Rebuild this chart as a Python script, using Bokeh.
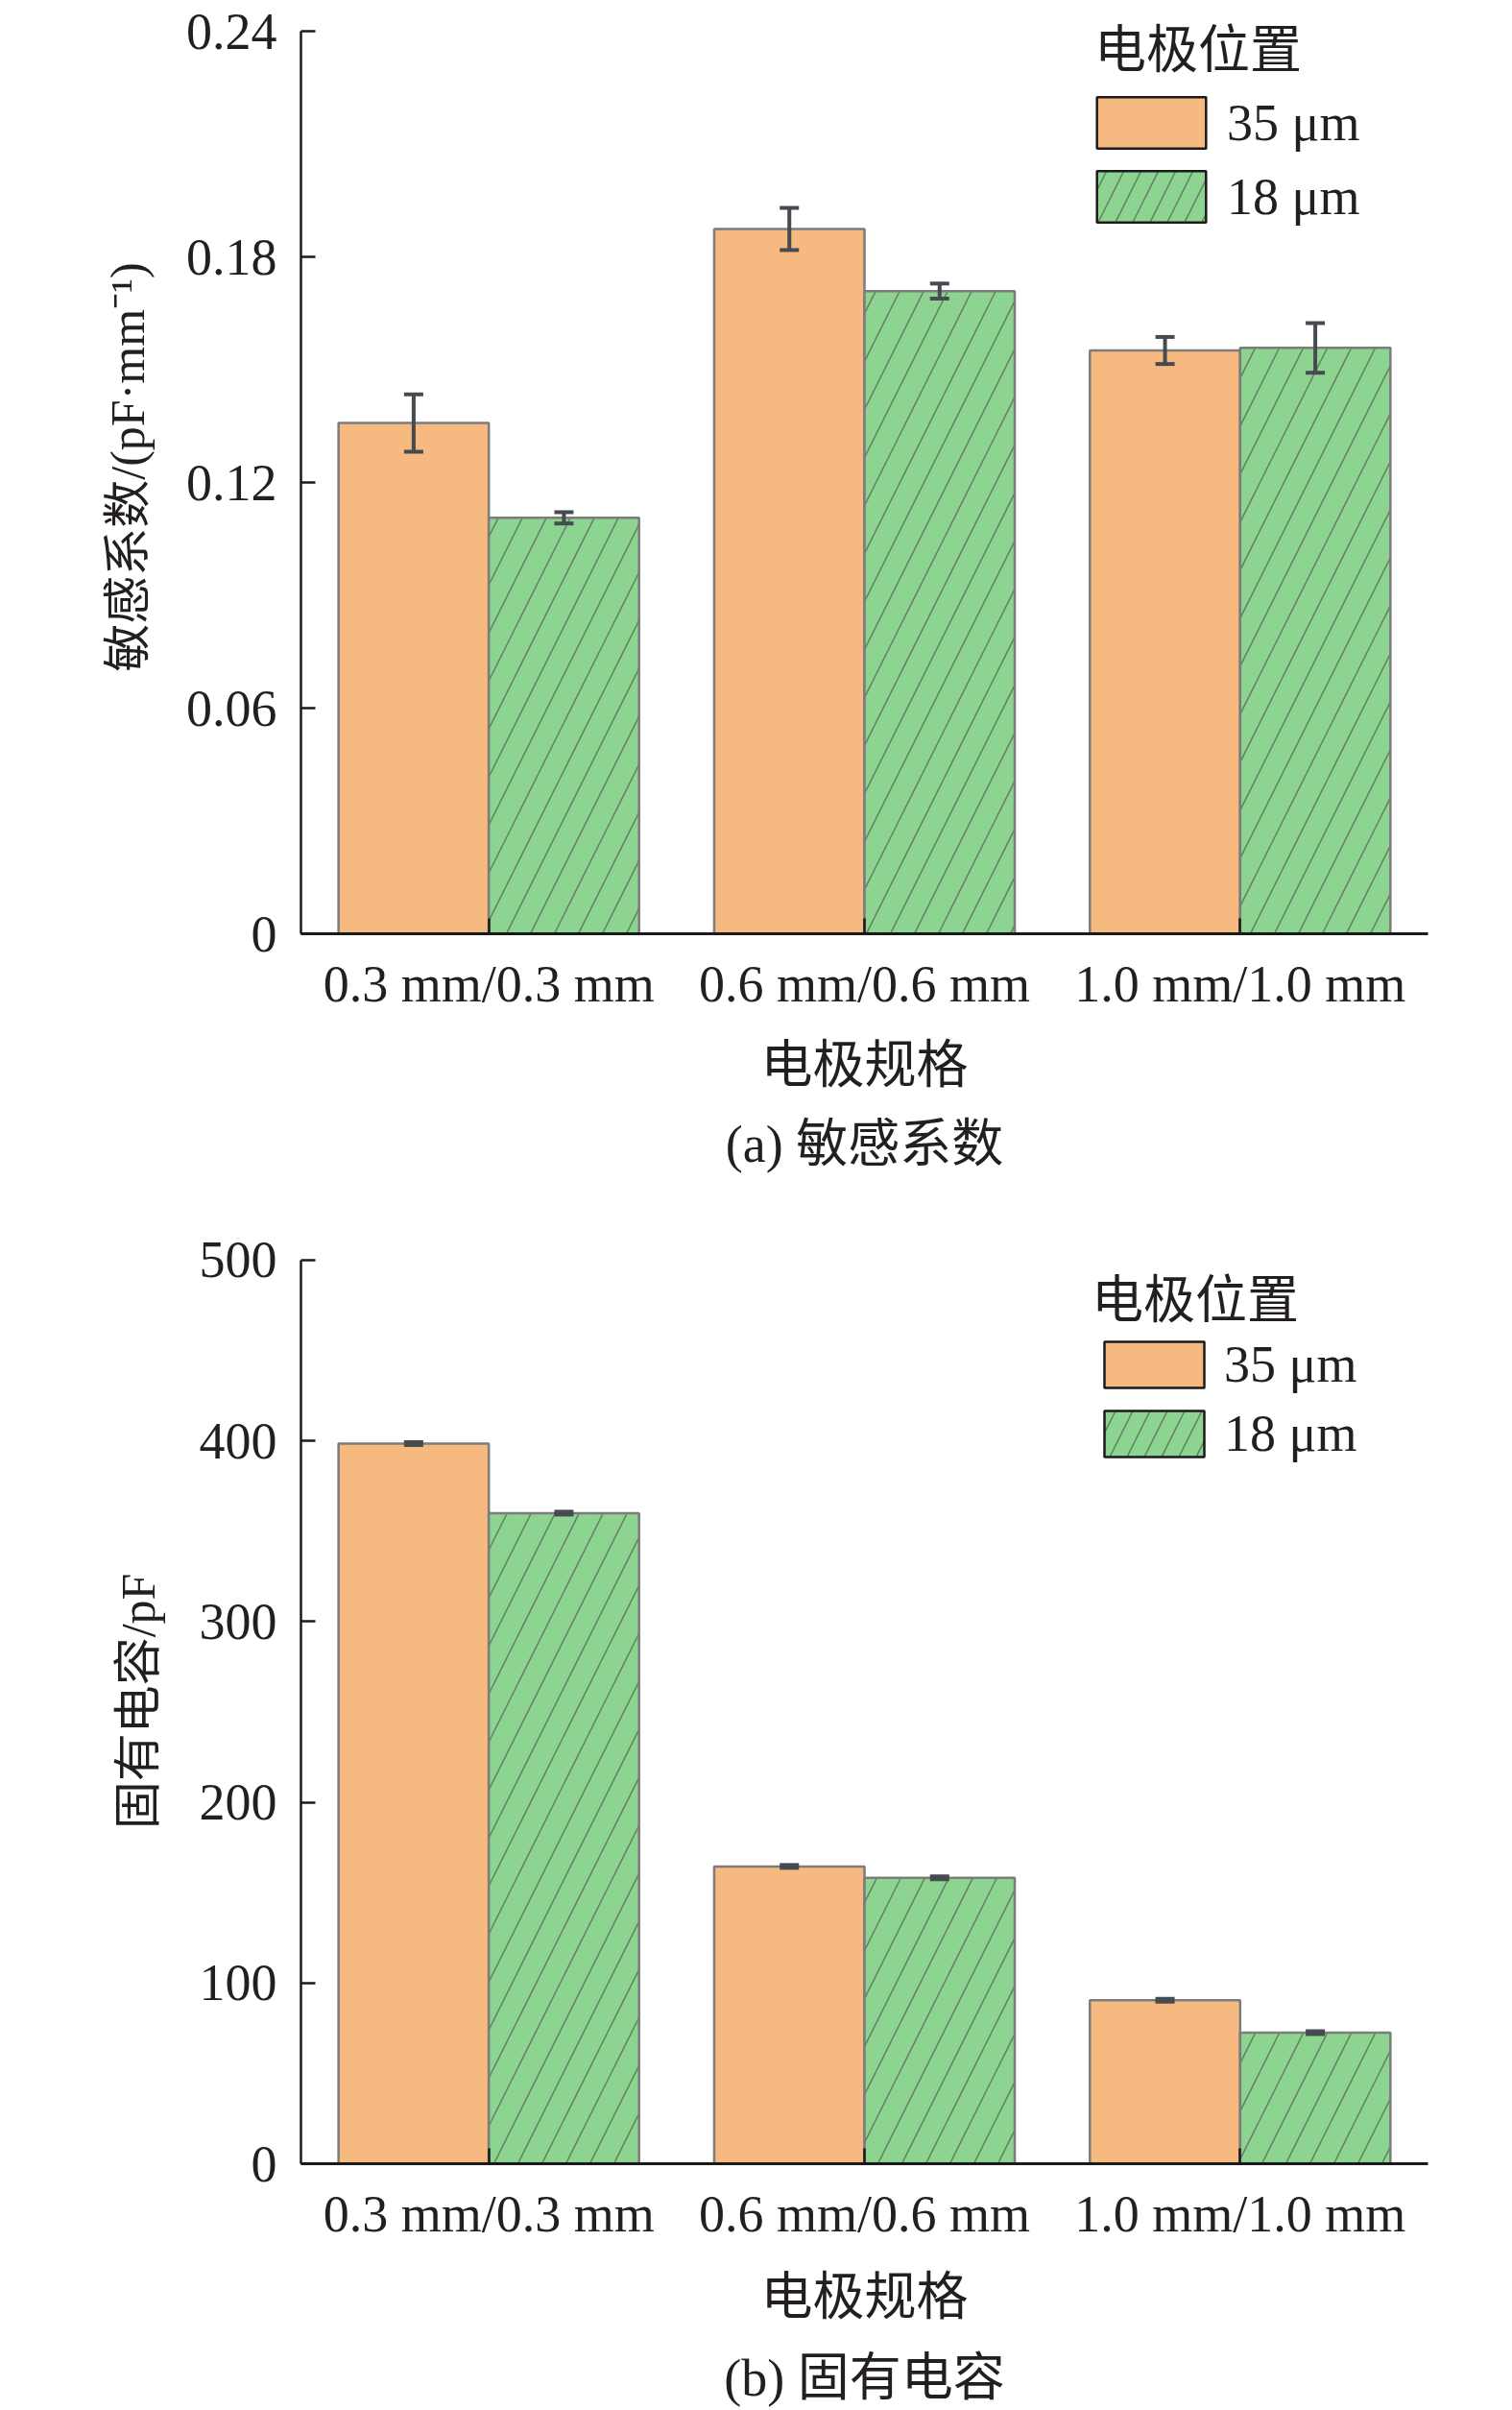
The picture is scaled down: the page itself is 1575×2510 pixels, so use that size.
from bokeh.plotting import figure
from bokeh.models import (FactorRange, Range1d, FixedTicker, Whisker, ColumnDataSource,
                          Legend, LegendItem, TeeHead)
from bokeh.transform import dodge
from bokeh.layouts import column
from bokeh.embed import file_html
from bokeh.resources import INLINE

# ---------------- data ----------------
specs = ["0.3 mm/0.3 mm", "0.6 mm/0.6 mm", "1.0 mm/1.0 mm"]
series = ["35 μm", "18 μm"]
legend_title = "电极位置"
x_label = "电极规格"

sens_35 = [0.1358, 0.1874, 0.1551]
sens_35_err = [0.0076, 0.0056, 0.0036]
sens_18 = [0.1106, 0.1709, 0.1558]
sens_18_err = [0.0015, 0.0020, 0.0066]
sens_ticks = [0, 0.06, 0.12, 0.18, 0.24]
sens_tick_labels = ["0", "0.06", "0.12", "0.18", "0.24"]
sens_ylabel = "敏感系数/(pF·mm⁻¹)"
sens_caption = "(a) 敏感系数"

cap_35 = [398.5, 164.5, 90.5]
cap_35_err = [0.8, 0.8, 0.8]
cap_18 = [360.0, 158.2, 72.5]
cap_18_err = [0.8, 0.8, 0.8]
cap_ticks = [0, 100, 200, 300, 400, 500]
cap_tick_labels = ["0", "100", "200", "300", "400", "500"]
cap_ylabel = "固有电容/pF"
cap_caption = "(b) 固有电容"

# ---------------- style ----------------
ORANGE = "#F6BA80"
GREEN = "#8CD48F"
OUTLINE = "#7c7c7c"
ERR = "#464a51"
HATCH = "#5a685b"
TXT = "#231f20"
SERIF = "Liberation Serif, Noto Sans CJK SC"
CJK = "Noto Sans CJK SC"
FS = "54px"
W = 1575


def make_panel(v35, e35, v18, e18, ticks, tick_labels, ylabel, caption,
               height, top_b, extra_top, bottom_b, glyph_w, glyph_h, spacing,
               label_standoff, title_standoff, title_pad, leg_x, leg_y, ylabel_standoff,
               xlabel_standoff, xlabel_line_height):
    src = ColumnDataSource(dict(
        spec=specs, v35=v35, v18=v18,
        u35=[a + b for a, b in zip(v35, e35)], l35=[a - b for a, b in zip(v35, e35)],
        u18=[a + b for a, b in zip(v18, e18)], l18=[a - b for a, b in zip(v18, e18)],
    ))
    frame_h = height - top_b - bottom_b
    # the frame reaches a little above the last tick so the legend fits; axis stops at last tick
    y_end = ticks[-1] * frame_h / (frame_h - extra_top)
    p = figure(x_range=FactorRange(*specs), y_range=Range1d(ticks[0], y_end),
               width=W, height=height, output_backend="svg", toolbar_location=None,
               min_border_left=313, min_border_right=88,
               min_border_top=top_b, min_border_bottom=bottom_b)
    p.x_range.range_padding = 0
    p.grid.visible = False
    p.outline_line_color = None
    p.background_fill_color = "white"

    p.vbar(x=dodge("spec", -0.2, range=p.x_range), top="v35", width=0.4, source=src,
           fill_color=ORANGE, line_color=OUTLINE, line_width=2.5)
    p.vbar(x=dodge("spec", 0.2, range=p.x_range), top="v18", width=0.4, source=src,
           fill_color=GREEN, line_color=OUTLINE, line_width=2.5,
           hatch_pattern="/", hatch_scale=50, hatch_color=HATCH,
           hatch_weight=1.5, hatch_alpha=0.8)

    for off, up, lo in [(-0.2, "u35", "l35"), (0.2, "u18", "l18")]:
        w = Whisker(source=src, base=dodge("spec", off, range=p.x_range),
                    upper=up, lower=lo, line_color=ERR, line_width=4,
                    upper_head=TeeHead(size=20, line_color=ERR, line_width=4),
                    lower_head=TeeHead(size=20, line_color=ERR, line_width=4),
                    level="annotation")
        p.add_layout(w)

    # legend swatches (hidden renderers, shown only in the legend)
    r1 = p.vbar(x=dodge("spec", -0.2, range=p.x_range), top="v35", width=0.4, source=src,
                fill_color=ORANGE, line_color="#1a1a1a", line_width=2.5, visible=False)
    r2 = p.vbar(x=dodge("spec", 0.2, range=p.x_range), top="v18", width=0.4, source=src,
                fill_color=GREEN, line_color="#1a1a1a", line_width=2.5,
                hatch_pattern="/", hatch_scale=36, hatch_color=HATCH,
                hatch_weight=1.5, hatch_alpha=0.8, visible=False)
    leg = Legend(items=[LegendItem(label=series[0], renderers=[r1]),
                        LegendItem(label=series[1], renderers=[r2])],
                 title=title_pad + legend_title, location=(leg_x, leg_y))
    leg.title_text_font = CJK
    leg.title_text_font_size = FS
    leg.title_text_font_style = "normal"
    leg.title_text_color = TXT
    leg.title_standoff = title_standoff
    leg.label_text_font = "Liberation Serif"
    leg.label_text_font_size = FS
    leg.label_text_color = TXT
    leg.glyph_width = glyph_w
    leg.glyph_height = glyph_h
    leg.label_standoff = label_standoff
    leg.spacing = spacing
    leg.padding = 0
    leg.margin = 0
    leg.border_line_color = None
    leg.background_fill_alpha = 0
    leg.label_height = glyph_h
    p.add_layout(leg)

    # axes
    xa = p.xaxis[0]
    xa.axis_line_width = 3
    xa.axis_line_color = "#1a1a1a"
    xa.major_tick_in = 16
    xa.major_tick_out = 0
    xa.major_tick_line_width = 2.5
    xa.major_tick_line_color = "#1a1a1a"
    xa.minor_tick_line_color = None
    xa.major_label_text_font = "Liberation Serif"
    xa.major_label_text_font_size = FS
    xa.major_label_text_color = TXT
    xa.major_label_standoff = 22
    xa.axis_label = x_label + "\n" + caption
    xa.axis_label_text_font = SERIF
    xa.axis_label_text_font_size = FS
    xa.axis_label_text_font_style = "normal"
    xa.axis_label_text_color = TXT
    xa.axis_label_text_line_height = xlabel_line_height
    xa.axis_label_standoff = xlabel_standoff

    ya = p.yaxis[0]
    ya.ticker = FixedTicker(ticks=ticks)
    ya.bounds = (ticks[0], ticks[-1])
    ya.major_label_overrides = {t: s for t, s in zip(ticks, tick_labels)}
    ya.axis_line_width = 2.5
    ya.axis_line_color = "#1a1a1a"
    ya.major_tick_in = 15
    ya.major_tick_out = 0
    ya.major_tick_line_width = 2.5
    ya.major_tick_line_color = "#1a1a1a"
    ya.minor_tick_line_color = None
    ya.major_label_text_font = "Liberation Serif"
    ya.major_label_text_font_size = FS
    ya.major_label_text_color = TXT
    ya.major_label_standoff = 25
    ya.axis_label = ylabel
    ya.axis_label_text_font = SERIF
    ya.axis_label_text_font_size = "50px"
    ya.axis_label_text_font_style = "normal"
    ya.axis_label_text_color = TXT
    ya.axis_label_standoff = ylabel_standoff
    return p


# top panel: canvas 0..1255, frame 0..972, last tick at 32
p1 = make_panel(sens_35, sens_35_err, sens_18, sens_18_err, sens_ticks, sens_tick_labels,
                sens_ylabel, sens_caption, height=1255, top_b=0, extra_top=32, bottom_b=283,
                glyph_w=142, glyph_h=67, spacing=10, label_standoff=8, title_standoff=7,
                title_pad="\u00a0", leg_x=815, leg_y=734, ylabel_standoff=30,
                xlabel_standoff=22, xlabel_line_height=1.38)
# bottom panel: canvas 1255..2510, frame 1290..2257, last tick at 1312
p2 = make_panel(cap_35, cap_35_err, cap_18, cap_18_err, cap_ticks, cap_tick_labels,
                cap_ylabel, cap_caption, height=1255, top_b=35, extra_top=22, bottom_b=253,
                glyph_w=130, glyph_h=60, spacing=10, label_standoff=8, title_standoff=1,
                title_pad="", leg_x=824, leg_y=729, ylabel_standoff=33,
                xlabel_standoff=24, xlabel_line_height=1.41)

layout = column(p1, p2, spacing=0)
open("out.html", "w").write(file_html(layout, INLINE))
